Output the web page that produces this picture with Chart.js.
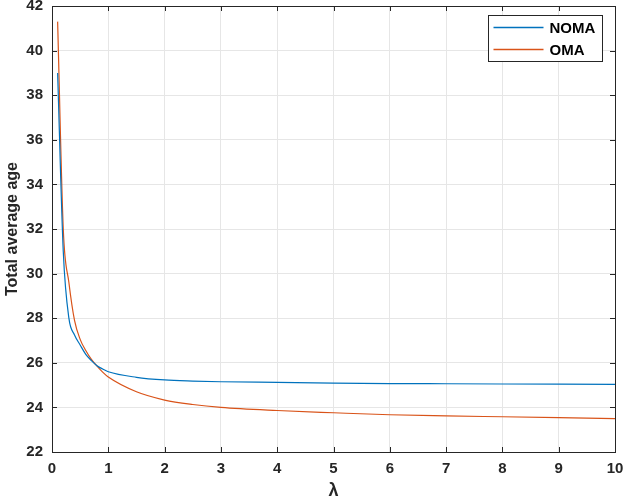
<!DOCTYPE html>
<html>
<head>
<meta charset="utf-8">
<script src="https://cdn.jsdelivr.net/npm/chart.js@4.4.0/dist/chart.umd.min.js"></script>
<style>
  html, body { margin: 0; padding: 0; background: #fff; }
  #wrap { width: 623px; height: 502px; }
</style>
</head>
<body>
<div id="wrap"><canvas id="chart" width="623" height="502"></canvas></div>
<script>
// values
const lambdaVals = [0.1, 0.2, 0.3, 0.4, 0.5, 0.6, 0.7, 0.8, 0.9, 1.0, 1.5, 2, 2.5, 3, 4, 5, 6, 7, 8, 9, 10];
const nomaVals = [39.0, 31.0, 28.0, 27.25, 26.8, 26.38, 26.1, 25.87, 25.72, 25.6, 25.35, 25.23, 25.18, 25.15, 25.12, 25.09, 25.07, 25.06, 25.05, 25.04, 25.03];
const omaVals = [41.3, 32.0, 29.6, 27.9, 27.05, 26.55, 26.15, 25.85, 25.58, 25.36, 24.7, 24.33, 24.13, 24.0, 23.86, 23.76, 23.67, 23.62, 23.58, 23.54, 23.5];
const seriesNames = ['NOMA', 'OMA'];
const seriesColors = ['#0072BD', '#D95319'];

const FONT = '"Liberation Sans Narrow", "Liberation Sans", Arial, sans-serif';
const AXIS = '#262626';

const toPoints = (vals) => vals.map((v, i) => ({ x: lambdaVals[i], y: v }));

// box round the plot with inward ticks, like matlab
const boxPlugin = {
  id: 'box',
  afterDatasetsDraw(chart) {
    const { ctx, chartArea: a, scales } = chart;
    ctx.save();
    ctx.strokeStyle = AXIS;
    ctx.lineWidth = 1;
    ctx.beginPath();
    scales.x.ticks.forEach(t => {
      const px = Math.round(scales.x.getPixelForValue(t.value)) + 0.5;
      ctx.moveTo(px, a.bottom); ctx.lineTo(px, a.bottom - 5);
      ctx.moveTo(px, a.top); ctx.lineTo(px, a.top + 5);
    });
    scales.y.ticks.forEach(t => {
      const py = Math.round(scales.y.getPixelForValue(t.value)) + 0.5;
      ctx.moveTo(a.left, py); ctx.lineTo(a.left + 5, py);
      ctx.moveTo(a.right, py); ctx.lineTo(a.right - 5, py);
    });
    ctx.stroke();
    ctx.strokeRect(Math.round(a.left) + 0.5, Math.round(a.top) + 0.5,
      Math.round(a.right - a.left), Math.round(a.bottom - a.top));

    // legend box top right
    const w = 114, h = 46;
    const lx = Math.round(a.right - 13 - w) + 0.5, ly = Math.round(a.top + 9) + 0.5;
    ctx.fillStyle = '#fff';
    ctx.fillRect(lx, ly, w, h);
    ctx.strokeRect(lx, ly, w, h);
    ctx.font = 'bold 15px ' + FONT;
    ctx.textBaseline = 'middle';
    chart.data.datasets.forEach((ds, i) => {
      const y = ly + 12 + i * 22;
      ctx.strokeStyle = seriesColors[i];
      ctx.lineWidth = 1.5;
      ctx.beginPath();
      ctx.moveTo(lx + 5, y); ctx.lineTo(lx + 55, y);
      ctx.stroke();
      ctx.fillStyle = '#000';
      ctx.fillText(ds.label, lx + 61, y + 1);
    });
    ctx.restore();
  }
};

new Chart(document.getElementById('chart'), {
  type: 'line',
  data: {
    datasets: [
      { label: seriesNames[0], data: toPoints(nomaVals), borderColor: seriesColors[0] },
      { label: seriesNames[1], data: toPoints(omaVals), borderColor: seriesColors[1] }
    ]
  },
  options: {
    responsive: false,
    animation: false,
    devicePixelRatio: 1,
    layout: { padding: { top: 6, right: 8, left: 3, bottom: 0 } },
    elements: {
      point: { radius: 0 },
      line: { borderWidth: 1.2, cubicInterpolationMode: 'monotone' }
    },
    plugins: { legend: { display: false }, tooltip: { enabled: false } },
    scales: {
      x: {
        type: 'linear',
        min: 0, max: 10,
        afterFit: (s) => { s.height = 50; s.paddingLeft = 0; s.paddingRight = 0; },
        ticks: { stepSize: 1, color: AXIS, padding: 8, maxRotation: 0,
          font: { family: FONT, size: 15, weight: 'bold' } },
        grid: { color: '#e6e6e6', drawTicks: false },
        border: { display: false },
        title: { display: true, text: 'λ', color: AXIS, padding: { top: 7, bottom: 0 },
          font: { family: FONT, size: 18, weight: 'bold' } }
      },
      y: {
        min: 22, max: 42,
        afterFit: (s) => { s.width = 49; s.paddingTop = 0; s.paddingBottom = 0; },
        ticks: { stepSize: 2, color: AXIS, padding: 9,
          font: { family: FONT, size: 15, weight: 'bold' } },
        grid: { color: '#e6e6e6', drawTicks: false },
        border: { display: false },
        title: { display: true, text: 'Total average age', color: AXIS, padding: { top: 0, bottom: 4 },
          font: { family: FONT, size: 16, weight: 'bold' } }
      }
    }
  },
  plugins: [boxPlugin]
});
</script>
</body>
</html>
